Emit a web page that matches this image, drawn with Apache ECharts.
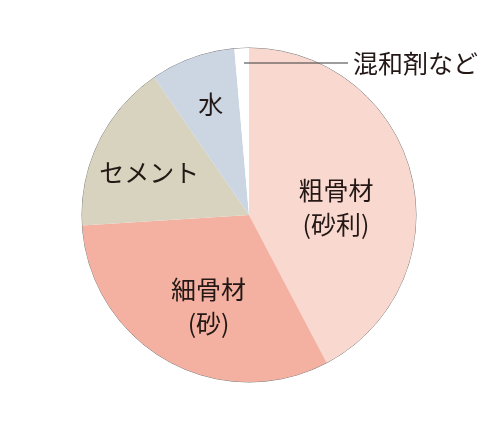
<!DOCTYPE html>
<html>
<head>
<meta charset="utf-8">
<script src="https://cdn.jsdelivr.net/npm/echarts@6/dist/echarts.min.js"></script>
<style>
html,body{margin:0;padding:0;background:#fff;}
#c{width:500px;height:432px;}
</style>
</head>
<body>
<div id="c"></div>
<script>
var categories = ['粗骨材\n(砂利)', '細骨材\n(砂)', 'セメント', '水', '混和剤など'];
var values = [42.3, 31.7, 16.4, 8.2, 1.4];

var colors = ['#f9d9cf', '#f4b1a1', '#d8d3bf', '#cbd6e2', '#ffffff'];
var labelOffsets = [[3, 13], [2, 16], [-22, -5], [-9, -29], [0, 0]];
var textColor = '#231815';
var font = '"Noto Sans CJK JP", "Noto Sans", sans-serif';

var data = categories.map(function (name, i) {
  var item = {
    name: name,
    value: values[i],
    itemStyle: { color: colors[i] },
    label: { offset: labelOffsets[i] }
  };
  if (i === 4) {
    item.label = {
      position: 'inside',
      formatter: '{ln| }{t|{b}}',
      rich: {
        ln: { width: 104, height: 1, backgroundColor: '#3a3a3a', fontSize: 1, lineHeight: 1 },
        t: { color: textColor, fontSize: 25, fontFamily: font, padding: [0, 0, 0, 5] }
      }
    };
  }
  return item;
});

var chart = echarts.init(document.getElementById('c'), null, { renderer: 'canvas' });
chart.setOption({
  backgroundColor: '#ffffff',
  animation: false,
  series: [
    {
      type: 'pie',
      center: [249, 215],
      radius: [0, 167],
      startAngle: 90,
      clockwise: true,
      avoidLabelOverlap: false,
      silent: true,
      itemStyle: { borderWidth: 0 },
      label: {
        show: true,
        position: 'inside',
        color: textColor,
        fontSize: 25,
        lineHeight: 34,
        fontFamily: font,
        formatter: '{b}'
      },
      labelLine: { show: false },
      labelLayout: function (params) {
        if (params.dataIndex !== 4) return {};
        var r = params.rect;
        return {
          x: r.x + r.width - 5,
          y: r.y + 15,
          align: 'left',
          verticalAlign: 'middle'
        };
      },
      data: data
    },
    {
      type: 'pie',
      center: [249, 215],
      radius: [0, 167],
      silent: true,
      z: 1,
      label: { show: false },
      labelLine: { show: false },
      itemStyle: { color: 'rgba(0,0,0,0)', borderColor: '#7a7a7a', borderWidth: 1 },
      data: [{ value: 1, name: 'outline' }]
    }
  ]
});
</script>
</body>
</html>
